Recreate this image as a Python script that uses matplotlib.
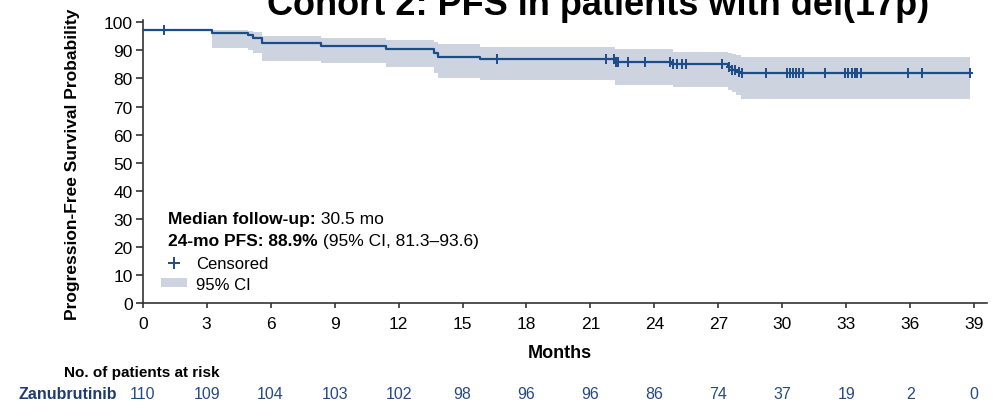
import numpy as np
import matplotlib
matplotlib.use("Agg")
import matplotlib.pyplot as plt
from matplotlib.lines import Line2D
from matplotlib.patches import Patch
from matplotlib.transforms import blended_transform_factory

plt.rcParams["font.family"] = ["Liberation Sans", "DejaVu Sans"]

# Kaplan-Meier step estimate (months, % progression-free)
event_times = [0, 3.25, 4.95, 5.15, 5.6, 8.35, 11.4, 13.65, 13.85, 15.8,
               22.15, 24.85, 27.45, 27.65, 27.85, 28.05]
survival = [97.3, 96.3, 95.4, 94.5, 92.5, 91.6, 90.6, 89.2, 87.8, 86.8,
            85.9, 85.0, 84.0, 83.1, 82.4, 81.8]
last_followup = 38.8

# 95% confidence band (starts at the first event after baseline)
ci_times = [3.25, 4.95, 5.15, 5.6, 8.35, 11.4, 13.65, 13.85, 15.8,
            22.15, 24.85, 27.45, 27.65, 27.85, 28.05]
ci_lower = [90.8, 90.3, 89.2, 86.2, 85.4, 84.1, 82.0, 80.3, 79.5,
            77.8, 76.8, 76.0, 75.2, 74.0, 72.8]
ci_upper = [97.2, 97.0, 96.6, 95.1, 94.5, 93.7, 93.0, 92.2, 91.3,
            90.4, 89.4, 88.9, 88.6, 88.2, 87.8]

# Censoring times (months)
censor_times = [1.0, 16.6, 21.75, 22.1, 22.2, 22.3, 22.75, 23.55, 24.75,
                24.85, 25.05, 25.3, 25.5, 27.15, 27.5, 27.65, 27.8, 27.95,
                28.1, 29.25, 30.2, 30.35, 30.5, 30.65, 30.8, 30.95, 32.0,
                32.95, 33.1, 33.25, 33.4, 33.5, 33.7, 35.9, 36.55, 38.8]

# Number at risk
risk_months = [0, 3, 6, 9, 12, 15, 18, 21, 24, 27, 30, 33, 36, 39]
at_risk = [110, 109, 104, 103, 102, 98, 96, 96, 86, 74, 37, 19, 2, 0]

line_color = "#1d4c89"
band_color = "#cdd3df"
risk_color = "#274b80"

W, H = 999, 406
fig = plt.figure(figsize=(W / 100, H / 100), dpi=100)
ax = fig.add_axes([142.7 / W, 1 - 304.3 / H, (987 - 142.7) / W, 283 / H])

# confidence band
ci_x = list(ci_times) + [last_followup]
ax.fill_between(ci_x, list(ci_lower) + [ci_lower[-1]],
                list(ci_upper) + [ci_upper[-1]],
                step="post", color=band_color, linewidth=0, zorder=1)

# survival curve
curve_x = list(event_times) + [last_followup]
curve_y = list(survival) + [survival[-1]]
ax.step(curve_x, curve_y, where="post", color=line_color, lw=1.6, zorder=3)

# censor marks on the curve
et = np.asarray(event_times)
sv = np.asarray(survival)
idx = np.searchsorted(et, np.asarray(censor_times), side="right") - 1
ax.plot(censor_times, sv[idx], ls="none", marker="|", markersize=7,
        markeredgewidth=1.4, color=line_color, zorder=4)
ax.plot(censor_times, sv[idx], ls="none", marker="_", markersize=5,
        markeredgewidth=1.4, color=line_color, zorder=4)

ax.set_xlim(0, 39.6)
ax.set_ylim(0, 100.7)
ax.set_xticks(risk_months)
ax.set_yticks(np.arange(0, 101, 10))
for s in ("top", "right"):
    ax.spines[s].set_visible(False)
for s in ("left", "bottom"):
    ax.spines[s].set_linewidth(1.2)
    ax.spines[s].set_color("#333333")
ax.tick_params(axis="y", length=4.8, width=1.2, pad=2.5, labelsize=12.5,
               color="#333333")
ax.tick_params(axis="x", length=3.8, width=1.2, pad=5, labelsize=12.5,
               color="#333333")

# axis titles
fig.text(72.5 / W, 1 - 164 / H, "Progression-Free Survival Probability",
         rotation=90, ha="center", va="center", fontsize=12.5,
         fontweight="bold")
fig.text(559.5 / W, 1 - 354 / H, "Months", ha="center", va="center",
         fontsize=13, fontweight="bold")

# title (runs off the top edge)
fig.text(598.5 / W, 1 - 15 / H, "Cohort 2: PFS in patients with del(17p)",
         ha="center", va="baseline", fontsize=26, fontweight="bold")

# summary statistics
t1 = fig.text(168.3 / W, 1 - 220 / H, "Median follow-up:", ha="left",
              va="center", fontsize=12.5, fontweight="bold")
ax.annotate(" 30.5 mo", xy=(1, 0), xycoords=t1, ha="left", va="bottom",
            fontsize=12.5)
t2 = fig.text(168.3 / W, 1 - 241.7 / H, "24-mo PFS: 88.9%", ha="left",
              va="center", fontsize=12.5, fontweight="bold")
ax.annotate(" (95% CI, 81.3\u201393.6)", xy=(1, 0), xycoords=t2, ha="left",
            va="bottom", fontsize=12.5)

# legend
handles = [Line2D([], [], ls="none", marker="+", markersize=8,
                  markeredgewidth=1.4, color=line_color),
           Patch(facecolor=band_color, edgecolor="none")]
fig.legend(handles, ["Censored", "95% CI"], loc="upper left",
           bbox_to_anchor=(160.7 / W, 1 - 257 / H), frameon=False,
           fontsize=12, handlelength=1.55, handleheight=0.45,
           handletextpad=0.55, labelspacing=0.35, borderpad=0,
           borderaxespad=0)

# number at risk table
fig.text(64 / W, 1 - 373.3 / H, "No. of patients at risk", ha="left",
         va="center", fontsize=11, fontweight="bold")
fig.text(116.7 / W, 1 - 394.3 / H, "Zanubrutinib", ha="right", va="center",
         fontsize=11.5, fontweight="bold", color="#1f3c70")
trans = blended_transform_factory(ax.transData, fig.transFigure)
for m, n in zip(risk_months, at_risk):
    ax.text(m, 1 - 394.3 / H, str(n), transform=trans, ha="center",
            va="center", fontsize=11.5, color=risk_color, clip_on=False)

fig.savefig("out.png", dpi=100)
